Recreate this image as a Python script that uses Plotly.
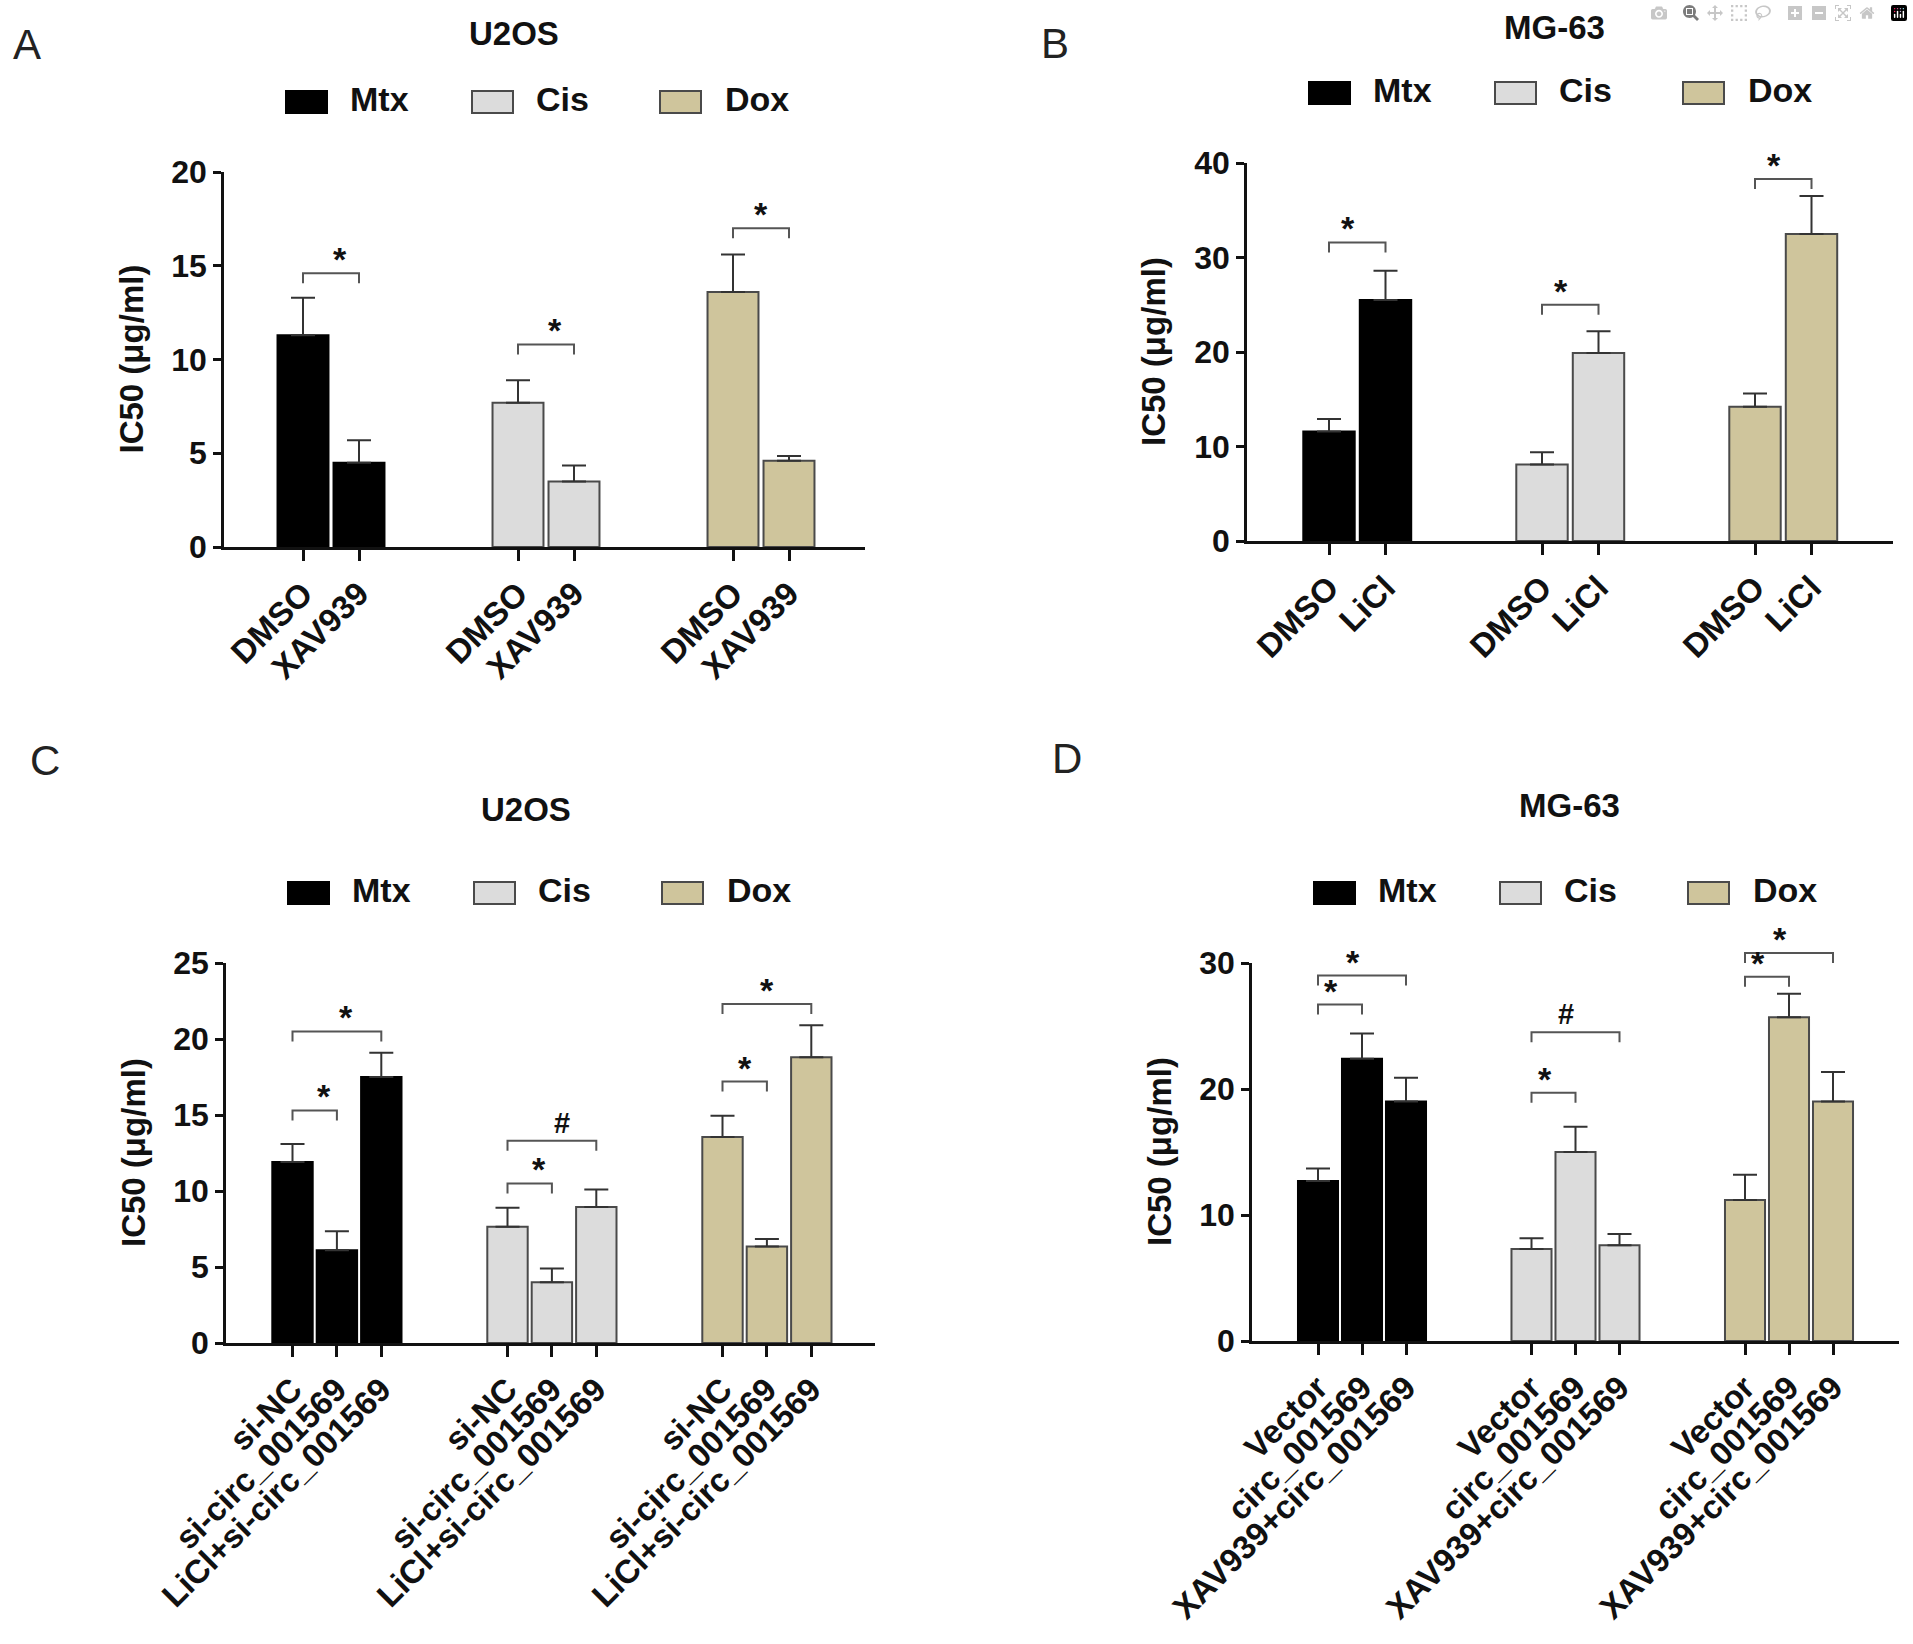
import plotly.graph_objects as go

W, H = 1913, 1644
FONT = "Liberation Sans, Arial, sans-serif"

drugs = ["Mtx", "Cis", "Dox"]
fill_colors = ["#000000", "#dcdcdc", "#cfc59c"]
edge_colors = ["#000000", "#4a4a4a", "#4a4a4a"]

# panel A - U2OS, XAV939
a_conditions = ["DMSO", "XAV939"]
a_mtx = [11.3, 4.5]
a_mtx_err = [2.0, 1.2]
a_cis = [7.7, 3.5]
a_cis_err = [1.2, 0.85]
a_dox = [13.6, 4.6]
a_dox_err = [2.0, 0.25]
# (drug, from, to, height, mark)
a_sig = [(0, 0, 1, 14.6, "*"), (1, 0, 1, 10.8, "*"), (2, 0, 1, 17.0, "*")]

# panel B - MG-63, LiCl
b_conditions = ["DMSO", "LiCl"]
b_mtx = [11.6, 25.5]
b_mtx_err = [1.3, 3.1]
b_cis = [8.1, 19.9]
b_cis_err = [1.3, 2.3]
b_dox = [14.2, 32.5]
b_dox_err = [1.4, 4.0]
b_sig = [(0, 0, 1, 31.6, "*"), (1, 0, 1, 25.0, "*"), (2, 0, 1, 38.3, "*")]

# panel C - U2OS, si-circ
c_conditions = ["si-NC", "si-circ_001569", "LiCl+si-circ_001569"]
c_mtx = [11.9, 6.1, 17.5]
c_mtx_err = [1.2, 1.25, 1.6]
c_cis = [7.65, 4.0, 8.95]
c_cis_err = [1.25, 0.9, 1.15]
c_dox = [13.55, 6.35, 18.8]
c_dox_err = [1.4, 0.5, 2.1]
c_sig = [(0, 0, 1, 15.3, "*"), (0, 0, 2, 20.5, "*"),
         (1, 0, 1, 10.5, "*"), (1, 0, 2, 13.3, "#"),
         (2, 0, 1, 17.2, "*"), (2, 0, 2, 22.3, "*")]

# panel D - MG-63, overexpression
d_conditions = ["Vector", "circ_001569", "XAV939+circ_001569"]
d_mtx = [12.7, 22.4, 19.0]
d_mtx_err = [1.0, 2.0, 1.9]
d_cis = [7.3, 15.0, 7.6]
d_cis_err = [0.85, 2.0, 0.9]
d_dox = [11.2, 25.7, 19.0]
d_dox_err = [2.0, 1.85, 2.35]
d_sig = [(0, 0, 1, 26.7, "*"), (0, 0, 2, 29.0, "*"),
         (1, 0, 1, 19.7, "*"), (1, 0, 2, 24.5, "#"),
         (2, 0, 1, 28.9, "*"), (2, 0, 2, 30.8, "*")]

# layout of each panel in pixels: axis box, bar step, first bar offset, group step
panels = [
    dict(letter="A", letter_xy=(27, 45), title="U2OS", title_xy=(514, 33),
         conds=a_conditions, means=[a_mtx, a_cis, a_dox], errs=[a_mtx_err, a_cis_err, a_dox_err],
         sig=a_sig, ymax=20, dtick=5, box=(224, 172, 865, 547), step=56, first=79, group=215),
    dict(letter="B", letter_xy=(1055, 43), title="MG-63", title_xy=(1554, 28),
         conds=b_conditions, means=[b_mtx, b_cis, b_dox], errs=[b_mtx_err, b_cis_err, b_dox_err],
         sig=b_sig, ymax=40, dtick=10, box=(1247, 163, 1893, 541), step=56.5, first=82, group=213),
    dict(letter="C", letter_xy=(45, 760), title="U2OS", title_xy=(526, 809),
         conds=c_conditions, means=[c_mtx, c_cis, c_dox], errs=[c_mtx_err, c_cis_err, c_dox_err],
         sig=c_sig, ymax=25, dtick=5, box=(226, 963, 875, 1343), step=44.4, first=66.5, group=215),
    dict(letter="D", letter_xy=(1067, 758), title="MG-63", title_xy=(1569, 805),
         conds=d_conditions, means=[d_mtx, d_cis, d_dox], errs=[d_mtx_err, d_cis_err, d_dox_err],
         sig=d_sig, ymax=30, dtick=10, box=(1252, 963, 1899, 1341), step=44, first=66, group=213.5),
]

legend_box_dx = [62, 248, 436]
legend_text_dx = [124, 310, 499]


def px(x):
    return x / W


def py(y):
    return 1 - y / H


fig = go.Figure()
shapes = []
annotations = []

for k, p in enumerate(panels):
    ax = "" if k == 0 else str(k + 1)
    x0, y0, x1, y1 = p["box"]
    gstep = p["group"] / p["step"]
    rmin = -p["first"] / p["step"]
    rmax = (x1 - x0 - p["first"]) / p["step"]
    n = len(p["conds"])

    tickvals, ticktext = [], []
    for g, drug in enumerate(drugs):
        xs = [g * gstep + j for j in range(n)]
        tickvals += xs
        ticktext += p["conds"]
        fig.add_trace(go.Bar(
            x=xs, y=p["means"][g], width=0.91, name=drug, showlegend=False,
            marker=dict(color=fill_colors[g], line=dict(color=edge_colors[g], width=2)),
            error_y=dict(type="data", symmetric=False, array=p["errs"][g], arrayminus=[0] * n,
                         color="#333333", thickness=2, width=12),
            xaxis="x" + ax, yaxis="y" + ax,
        ))

    fig.update_layout(**{
        "xaxis" + ax: dict(
            domain=[px(x0), px(x1)], anchor="y" + ax, range=[rmin, rmax], automargin=False,
            tickmode="array", tickvals=tickvals, ticktext=ticktext, tickangle=-45,
            ticks="outside", ticklen=11, tickwidth=2.5, tickcolor="#111",
            showline=True, linewidth=3, linecolor="#111", showgrid=False, zeroline=False,
            tickfont=dict(family=FONT, size=33, color="#111", weight="bold"),
        ),
        "yaxis" + ax: dict(
            domain=[py(y1), py(y0)], anchor="x" + ax, range=[0, p["ymax"]], dtick=p["dtick"],
            automargin=False,
            ticks="outside", ticklen=8, tickwidth=2.5, tickcolor="#111",
            showline=True, linewidth=2.5, linecolor="#111", showgrid=False, zeroline=False,
            tickfont=dict(family=FONT, size=32, color="#111", weight="bold"),
        ),
    })

    def to_paper(xv, yv):
        return (px(x0 + (xv - rmin) / (rmax - rmin) * (x1 - x0)),
                py(y1 - yv / p["ymax"] * (y1 - y0)))

    # significance brackets
    drop = 10
    for g, i, j, yv, mark in p["sig"]:
        xa, yb = to_paper(g * gstep + i, yv)
        xb, _ = to_paper(g * gstep + j, yv)
        yd = yb - drop / H
        shapes.append(dict(type="path", xref="paper", yref="paper",
                           path=f"M {xa},{yd} L {xa},{yb} L {xb},{yb} L {xb},{yd}",
                           line=dict(color="#555555", width=2)))
        annotations.append(dict(x=(xa + xb) / 2, y=yb, xref="paper", yref="paper",
                                text=mark, showarrow=False, yanchor="middle",
                                yshift=14 if mark == "*" else 18,
                                font=dict(family=FONT, size=34 if mark == "*" else 29,
                                          color="#111", weight="bold")))

    # legend
    ly = y0 - 70
    for g, drug in enumerate(drugs):
        bx = x0 + legend_box_dx[g]
        shapes.append(dict(type="rect", xref="paper", yref="paper",
                           x0=px(bx), x1=px(bx + 41), y0=py(ly + 11), y1=py(ly - 11),
                           fillcolor=fill_colors[g], line=dict(color=edge_colors[g], width=2)))
        annotations.append(dict(x=px(x0 + legend_text_dx[g]), y=py(ly - 3), xref="paper", yref="paper",
                                text=drug, showarrow=False, xanchor="left", yanchor="middle",
                                font=dict(family=FONT, size=34, color="#111", weight="bold")))

    # y title
    annotations.append(dict(x=px(x0 - 93), y=py((y0 + y1) / 2), xref="paper", yref="paper",
                            text="IC50 (\u03bcg/ml)", textangle=-90, showarrow=False,
                            xanchor="center", yanchor="middle",
                            font=dict(family=FONT, size=33, color="#111", weight="bold")))
    # panel title
    annotations.append(dict(x=px(p["title_xy"][0]), y=py(p["title_xy"][1]), xref="paper", yref="paper",
                            text=p["title"], showarrow=False, xanchor="center", yanchor="middle",
                            font=dict(family=FONT, size=33, color="#111", weight="bold")))
    # panel letter
    annotations.append(dict(x=px(p["letter_xy"][0]), y=py(p["letter_xy"][1]), xref="paper", yref="paper",
                            text=p["letter"], showarrow=False, xanchor="center", yanchor="middle",
                            font=dict(family=FONT, size=42, color="#222")))

fig.update_layout(
    width=W, height=H, margin=dict(l=0, r=0, t=0, b=0, autoexpand=False),
    paper_bgcolor="white", plot_bgcolor="white",
    barmode="overlay", showlegend=False,
    shapes=shapes, annotations=annotations,
)

fig.write_html("out.html", post_script="document.body.style.margin='0';")
